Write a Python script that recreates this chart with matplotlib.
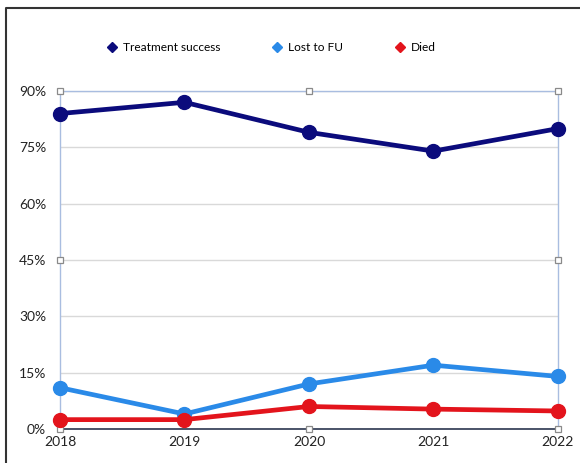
import matplotlib
matplotlib.use('Agg')
import matplotlib.pyplot as plt
from matplotlib.lines import Line2D
from matplotlib.ticker import FuncFormatter

years = ['2018', '2019', '2020', '2021', '2022']
treatment_success = [84, 87, 79, 74, 80]
lost_to_fu = [11, 4, 12, 17, 14]
died = [2.5, 2.5, 6, 5.3, 4.8]

series = [
    ('Treatment success', treatment_success, '#0b0b7c'),
    ('Lost to FU', lost_to_fu, '#2a8ae8'),
    ('Died', died, '#e3141c'),
]

plt.rcParams['font.family'] = ['Lato', 'DejaVu Sans']

fig = plt.figure(figsize=(5.8, 4.63), dpi=100)
ax = fig.add_axes([0.1034, 0.0734, 0.8586, 0.730])

x = list(range(len(years)))
for name, vals, col in series:
    ax.plot(x, vals, color=col, linewidth=3.4, marker='o', markersize=10,
            clip_on=False, zorder=5, label=name)

ax.set_xlim(0, len(years) - 1)
ax.set_ylim(0, 90)
ax.set_yticks(range(0, 91, 15))
ax.yaxis.set_major_formatter(FuncFormatter(lambda v, p: '%d%%' % v))
ax.set_xticks(x)
ax.set_xticklabels(years)
ax.tick_params(length=0, labelsize=10, colors='#222222')
ax.tick_params(axis='x', pad=5)
ax.tick_params(axis='y', pad=10)
ax.grid(axis='y', color='#d9d9d9', linewidth=1)
ax.set_axisbelow(True)

for side in ['left', 'right', 'top']:
    ax.spines[side].set_color('#a9bde0')
    ax.spines[side].set_linewidth(1)
ax.spines['bottom'].set_color('#2b3650')
ax.spines['bottom'].set_linewidth(1.2)

# selection handles around the plot area
hx = [0, 0.5, 1, 0, 1, 0, 0.5, 1]
hy = [1, 1, 1, 0.5, 0.5, 0, 0, 0]
ax.plot(hx, hy, linestyle='none', marker='s', markersize=4.5,
        markerfacecolor='white', markeredgecolor='#8a8a8a', markeredgewidth=0.9,
        transform=ax.transAxes, clip_on=False, zorder=3)

handles = [Line2D([], [], linestyle='none', marker='D', markersize=5, color=c)
           for _, _, c in series]
fig.legend(handles, [s[0] for s in series], loc='center left', ncol=3,
           bbox_to_anchor=(105 / 580, 0.898), frameon=False, fontsize=8.6,
           borderpad=0, borderaxespad=0, columnspacing=4.15,
           handletextpad=0.3, handlelength=1.2)

# outer frame
fig.add_artist(Line2D([0.0103, 0.0103, 1.0], [0.0, 0.9827, 0.9827],
                      color='#333333', linewidth=1.5, transform=fig.transFigure))

fig.savefig('out.png', dpi=100)
